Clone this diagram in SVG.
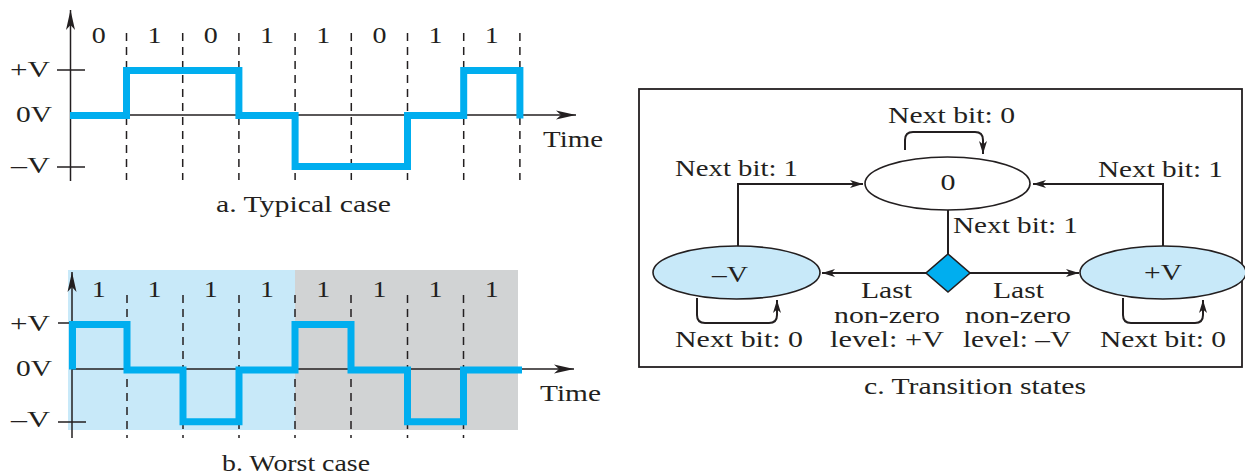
<svg xmlns="http://www.w3.org/2000/svg" width="1245" height="475" viewBox="0 0 1245 475">
<style>
text{font-family:"Liberation Serif","Times New Roman",serif;font-size:23px;fill:#231F20}
.m{text-anchor:middle}
.bit{font-size:24px}
.ax{stroke:#231F20;stroke-width:1.5;fill:none}
.dash{stroke:#231F20;stroke-width:1.5;stroke-dasharray:8 6;fill:none}
.wave{stroke:#00AEEF;stroke-width:7;fill:none;stroke-linejoin:miter}
.con{stroke:#231F20;stroke-width:2;fill:none}
.node{stroke:#231F20;stroke-width:1.6}
</style>
<defs>
<marker id="axh" markerUnits="userSpaceOnUse" markerWidth="22" markerHeight="12" refX="20" refY="6" orient="auto"><path d="M0,1.5 L20,6 L0,10.5 L5,6 Z" fill="#231F20"/></marker>
<marker id="arh" markerUnits="userSpaceOnUse" markerWidth="15" markerHeight="10" refX="13" refY="5" orient="auto"><path d="M0,1 L13,5 L0,9 L3.5,5 Z" fill="#231F20"/></marker>
</defs>
<rect width="1245" height="475" fill="#fff"/>

<g id="panel-a">
<g class="dash"><path d="M126.5,33V180M182.7,33V180M238.9,33V180M295.1,33V180M351.3,33V180M407.5,33V180M463.7,33V180M519.9,33V180"/></g>
<path class="ax" d="M57,70H85M57,167H85"/>
<line class="ax" x1="70.5" y1="181" x2="70.5" y2="10" marker-end="url(#axh)"/>
<line class="ax" x1="70.5" y1="115" x2="576" y2="115" marker-end="url(#axh)"/>
<path class="wave" d="M70,115.5H126.5V70.5H238.9V115.5H295.1V166.5H407.5V115.5H463.7V70.5H519.9V118.5"/>
<g class="m bit">
<text x="98.7" y="43" textLength="14" lengthAdjust="spacingAndGlyphs">0</text><text x="154.6" y="43" textLength="14" lengthAdjust="spacingAndGlyphs">1</text><text x="210.8" y="43" textLength="14" lengthAdjust="spacingAndGlyphs">0</text><text x="267" y="43" textLength="14" lengthAdjust="spacingAndGlyphs">1</text><text x="323.2" y="43" textLength="14" lengthAdjust="spacingAndGlyphs">1</text><text x="379.4" y="43" textLength="14" lengthAdjust="spacingAndGlyphs">0</text><text x="435.6" y="43" textLength="14" lengthAdjust="spacingAndGlyphs">1</text><text x="491.8" y="43" textLength="14" lengthAdjust="spacingAndGlyphs">1</text>
</g>
<text x="10" y="77" textLength="40" lengthAdjust="spacingAndGlyphs">+V</text>
<text x="16" y="122" textLength="36" lengthAdjust="spacingAndGlyphs">0V</text>
<text x="11" y="173" textLength="39" lengthAdjust="spacingAndGlyphs">–V</text>
<text x="543" y="147" textLength="60" lengthAdjust="spacingAndGlyphs">Time</text>
<text x="216" y="212" textLength="175" lengthAdjust="spacingAndGlyphs">a. Typical case</text>
</g>

<g id="panel-b">
<rect x="68" y="270" width="227" height="160" fill="#C8E9F9"/>
<rect x="295" y="270" width="223" height="160" fill="#D1D3D4"/>
<g class="dash"><path d="M127,295V438M183,295V438M239,295V438M295,295V438M351,295V438M407.5,295V438M463.5,295V438"/></g>
<path class="ax" d="M58,323H86M58,422H86"/>
<line class="ax" x1="72" y1="438" x2="72" y2="272" marker-end="url(#axh)"/>
<line class="ax" x1="72" y1="369" x2="574" y2="369" marker-end="url(#axh)"/>
<path class="wave" d="M72.5,369.5V324.5H127V370H183V421.7H239V370H295V324.5H351V370H407.5V421.7H463.5V370H522"/>
<g class="m bit">
<text x="98.7" y="297" textLength="14" lengthAdjust="spacingAndGlyphs">1</text><text x="154.6" y="297" textLength="14" lengthAdjust="spacingAndGlyphs">1</text><text x="210.8" y="297" textLength="14" lengthAdjust="spacingAndGlyphs">1</text><text x="267" y="297" textLength="14" lengthAdjust="spacingAndGlyphs">1</text><text x="323.2" y="297" textLength="14" lengthAdjust="spacingAndGlyphs">1</text><text x="379.4" y="297" textLength="14" lengthAdjust="spacingAndGlyphs">1</text><text x="435.6" y="297" textLength="14" lengthAdjust="spacingAndGlyphs">1</text><text x="491.8" y="297" textLength="14" lengthAdjust="spacingAndGlyphs">1</text>
</g>
<text x="10" y="331" textLength="40" lengthAdjust="spacingAndGlyphs">+V</text>
<text x="16" y="376" textLength="36" lengthAdjust="spacingAndGlyphs">0V</text>
<text x="11" y="427" textLength="39" lengthAdjust="spacingAndGlyphs">–V</text>
<text x="540" y="401" textLength="61" lengthAdjust="spacingAndGlyphs">Time</text>
<text x="222" y="471" textLength="148" lengthAdjust="spacingAndGlyphs">b. Worst case</text>
</g>

<g id="panel-c">
<rect x="639" y="89" width="603" height="278" fill="none" stroke="#231F20" stroke-width="1.8"/>

<g id="connectors">
<path class="con" d="M738,246V184H863" marker-end="url(#arh)"/>
<path class="con" d="M1163,246V184H1033" marker-end="url(#arh)"/>
<path class="con" d="M948,210V255"/>
<path class="con" d="M926,273H822" marker-end="url(#arh)"/>
<path class="con" d="M970,273H1079" marker-end="url(#arh)"/>
<path class="con" d="M905,150V140Q905,132 913,132H975Q983,132 983,140V154" marker-end="url(#arh)"/>
<path class="con" d="M697,298V315Q697,323 705,323H769Q777,323 777,315V300" marker-end="url(#arh)"/>
<path class="con" d="M1123,298V315Q1123,323 1131,323H1195Q1203,323 1203,315V300" marker-end="url(#arh)"/>
</g>

<g id="node-zero">
<ellipse class="node" cx="947.5" cy="183.5" rx="82.5" ry="26.5" fill="#fff"/>
<text class="m" x="948" y="190" textLength="15" lengthAdjust="spacingAndGlyphs">0</text>
</g>
<g id="node-minus">
<ellipse class="node" cx="736.5" cy="272.5" rx="83.5" ry="26.5" fill="#C8E9F9"/>
<text class="m" x="730" y="282" textLength="36" lengthAdjust="spacingAndGlyphs">–V</text>
</g>
<g id="node-plus">
<ellipse class="node" cx="1163" cy="272.5" rx="83" ry="26.5" fill="#C8E9F9"/>
<text class="m" x="1163" y="280" textLength="38" lengthAdjust="spacingAndGlyphs">+V</text>
</g>
<g id="node-diamond">
<path class="node" d="M948,254L970,273L948,292L926,273Z" fill="#00AEEF"/>
</g>

<g id="labels-c">
<text x="888" y="123" textLength="127" lengthAdjust="spacingAndGlyphs">Next bit: 0</text>
<text x="675" y="176" textLength="123" lengthAdjust="spacingAndGlyphs">Next bit: 1</text>
<text x="1098" y="177" textLength="125" lengthAdjust="spacingAndGlyphs">Next bit: 1</text>
<text x="953" y="233" textLength="125" lengthAdjust="spacingAndGlyphs">Next bit: 1</text>
<text x="861" y="298" textLength="51" lengthAdjust="spacingAndGlyphs">Last</text>
<text x="834" y="323" textLength="106" lengthAdjust="spacingAndGlyphs">non-zero</text>
<text x="830" y="347" textLength="114" lengthAdjust="spacingAndGlyphs">level: +V</text>
<text x="993" y="298" textLength="51" lengthAdjust="spacingAndGlyphs">Last</text>
<text x="965" y="323" textLength="106" lengthAdjust="spacingAndGlyphs">non-zero</text>
<text x="963" y="347" textLength="108" lengthAdjust="spacingAndGlyphs">level: –V</text>
<text x="675" y="347" textLength="128" lengthAdjust="spacingAndGlyphs">Next bit: 0</text>
<text x="1100" y="347" textLength="126" lengthAdjust="spacingAndGlyphs">Next bit: 0</text>
<text x="864" y="394" textLength="222" lengthAdjust="spacingAndGlyphs">c. Transition states</text>
</g>
</g>
</svg>
